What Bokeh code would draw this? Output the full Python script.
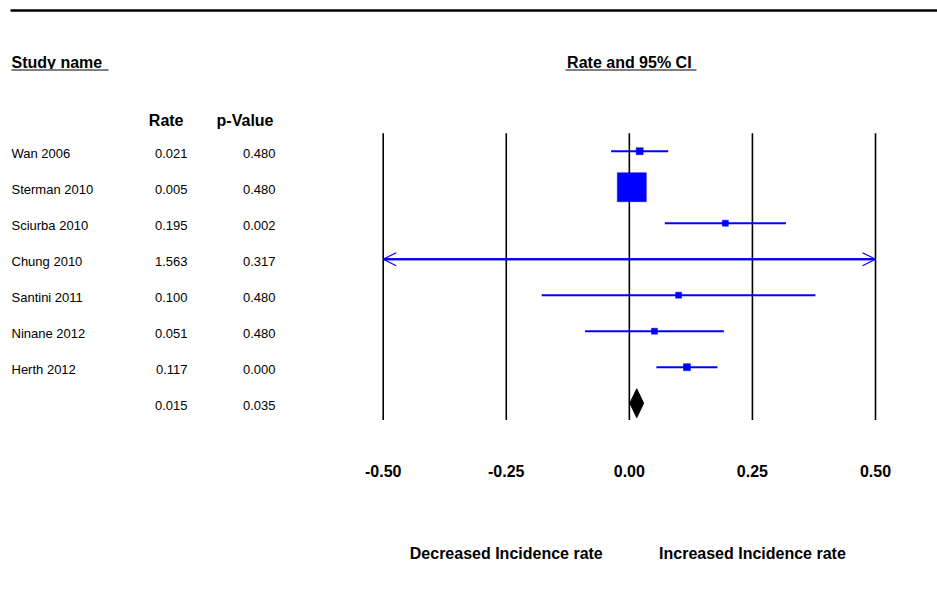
import numpy as np
from bokeh.plotting import figure
from bokeh.models import Range1d, Arrow, OpenHead, ColumnDataSource
from bokeh.core.properties import value
from bokeh.embed import file_html
from bokeh.resources import INLINE

# ---------------- data ----------------
studies = ["Wan 2006", "Sterman 2010", "Sciurba 2010", "Chung 2010",
           "Santini 2011", "Ninane 2012", "Herth 2012"]
rate = [0.021, 0.005, 0.195, 1.563, 0.100, 0.051, 0.117]
rate_labels = ["0.021", "0.005", "0.195", "1.563", "0.100", "0.051", "0.117"]
p_labels = ["0.480", "0.480", "0.002", "0.317", "0.480", "0.480", "0.000"]
ci_low = [-0.037, -0.009, 0.072, -1.50, -0.178, -0.090, 0.055]
ci_high = [0.079, 0.019, 0.318, 4.63, 0.378, 0.192, 0.179]

summary_rate = 0.015
summary_low = 0.001
summary_high = 0.029
summary_rate_label = "0.015"
summary_p_label = "0.035"

ticks = [-0.50, -0.25, 0.00, 0.25, 0.50]
tick_labels = ["-0.50", "-0.25", "0.00", "0.25", "0.50"]

# ---------------- styles ----------------
marker_px = [7, 29, 6, 6, 6, 6, 7]
BLUE = "#0000FF"
FONT = value("Liberation Sans")
W, H = 937, 605

xmin, xmax = ticks[0], ticks[-1]
px_per_unit = 492.3
x_zero_px = 628.85
row0_px = 150.7
row_step = 36.0
text_drop = 2.0 / row_step   # row texts sit slightly below the CI lines

p = figure(width=W, height=H, output_backend="svg", toolbar_location=None,
           x_range=Range1d(-x_zero_px / px_per_unit, (W - x_zero_px) / px_per_unit),
           y_range=Range1d((H - row0_px) / row_step, (0 - row0_px) / row_step),
           min_border=0, min_border_left=0, min_border_right=0,
           min_border_top=0, min_border_bottom=0,
           x_axis_type=None, y_axis_type=None)
p.outline_line_color = None
p.grid.visible = False
p.background_fill_color = "white"
p.border_fill_color = "white"
p.extra_x_ranges = {"px": Range1d(0, W)}
p.extra_y_ranges = {"py": Range1d(H, 0)}

n = len(studies)
rows = list(range(n))
summary_row = n

# top rule
p.segment(x0=[10], y0=[10], x1=[W], y1=[10], line_color="black", line_width=2.5,
          x_range_name="px", y_range_name="py")

# header texts
p.text(x=[11], y=[62], text=["Study name"], text_font=FONT, text_font_size="16px",
       text_font_style="bold", text_align="left", text_baseline="alphabetic",
       x_range_name="px", y_range_name="py")
p.segment(x0=[11], y0=[69.5], x1=[108], y1=[69.5], line_color="#808080", line_width=2,
          x_range_name="px", y_range_name="py")
p.text(x=[0.0], y=[62], text=["Rate and 95% CI"], text_font=FONT, text_font_size="16px",
       text_font_style="bold", text_align="center", text_baseline="alphabetic",
       y_range_name="py")
p.segment(x0=[565], y0=[69.5], x1=[696], y1=[69.5], line_color="#808080", line_width=2,
          x_range_name="px", y_range_name="py")
p.text(x=[183, 273], y=[120, 120], text=["Rate", "p-Value"], text_font=FONT,
       text_font_size="16px", text_font_style="bold", text_align="right",
       text_baseline="alphabetic", x_range_name="px", y_range_name="py")

# table rows
row_y = np.array(rows + [summary_row], dtype=float) + text_drop
p.text(x=[11] * n, y=row_y[:n], text=studies, text_font=FONT, text_font_size="13px",
       text_align="left", text_baseline="middle", x_range_name="px")
p.text(x=[187] * (n + 1), y=row_y, text=rate_labels + [summary_rate_label], text_font=FONT,
       text_font_size="13px", text_align="right", text_baseline="middle",
       x_range_name="px")
p.text(x=[275] * (n + 1), y=row_y, text=p_labels + [summary_p_label], text_font=FONT,
       text_font_size="13px", text_align="right", text_baseline="middle",
       x_range_name="px")

# vertical reference lines
p.segment(x0=ticks, y0=[-0.5] * len(ticks), x1=ticks, y1=[n + 0.47] * len(ticks),
          line_color="black", line_width=1.6)

# tick labels
p.text(x=ticks, y=[470] * len(ticks), text=tick_labels, text_font=FONT,
       text_font_size="16px", text_font_style="bold", text_align="center",
       text_baseline="alphabetic", y_range_name="py")

# direction labels
p.text(x=[-0.25, 0.25], y=[553, 553],
       text=["Decreased Incidence rate", "Increased Incidence rate"], text_font=FONT,
       text_font_size="16px", text_font_style="bold", text_align="center",
       text_baseline="alphabetic", y_range_name="py")

# confidence intervals (clipped to axis)
lo = np.clip(ci_low, xmin, xmax)
hi = np.clip(ci_high, xmin, xmax)
p.segment(x0=lo, y0=rows, x1=hi, y1=rows, line_color=BLUE, line_width=2)

# arrows for clipped ends
left_idx = [i for i in rows if ci_low[i] < xmin]
right_idx = [i for i in rows if ci_high[i] > xmax]
if left_idx:
    src = ColumnDataSource(dict(xs=[(lo[i] + hi[i]) / 2 for i in left_idx],
                                xe=[xmin] * len(left_idx),
                                y=[float(i) for i in left_idx]))
    p.add_layout(Arrow(end=OpenHead(size=13, line_color=BLUE, line_width=1.2),
                       x_start="xs", y_start="y", x_end="xe", y_end="y",
                       line_color=BLUE, line_width=2, source=src))
if right_idx:
    src = ColumnDataSource(dict(xs=[(lo[i] + hi[i]) / 2 for i in right_idx],
                                xe=[xmax] * len(right_idx),
                                y=[float(i) for i in right_idx]))
    p.add_layout(Arrow(end=OpenHead(size=13, line_color=BLUE, line_width=1.2),
                       x_start="xs", y_start="y", x_end="xe", y_end="y",
                       line_color=BLUE, line_width=2, source=src))

# point estimates (only those within the axis)
inside = [i for i in rows if xmin <= rate[i] <= xmax]
p.scatter(x=[rate[i] for i in inside], y=[rows[i] for i in inside],
          size=[marker_px[i] for i in inside], marker="square",
          fill_color=BLUE, line_color=BLUE, line_width=0.5)

# summary diamond
half_h = 0.40
p.patch(x=[summary_low, summary_rate, summary_high, summary_rate],
        y=[summary_row, summary_row - half_h, summary_row, summary_row + half_h],
        fill_color="black", line_color="black", line_width=1)

open("out.html", "w").write(file_html(p, INLINE))
